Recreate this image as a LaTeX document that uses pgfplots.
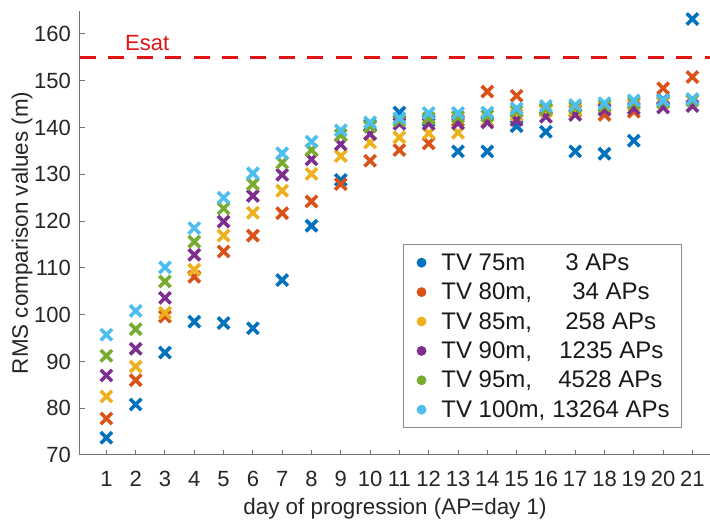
\documentclass[border=0pt]{standalone}
\usepackage{fontspec}
\setmainfont{Liberation Sans}
\usepackage{pgfplots}
\usepackage{pgfplotstable}
\pgfplotsset{compat=1.18}
\definecolor{c1}{rgb}{0,0.447,0.741}
\definecolor{c2}{rgb}{0.850,0.325,0.098}
\definecolor{c3}{rgb}{0.929,0.694,0.125}
\definecolor{c4}{rgb}{0.494,0.184,0.556}
\definecolor{c5}{rgb}{0.466,0.674,0.188}
\definecolor{c6}{rgb}{0.301,0.745,0.933}
\definecolor{esat}{rgb}{0.88,0.08,0.08}
\pgfplotstableread{
day  b      o      y      p      g      c
1    73.7   77.8   82.5   87.0   91.2   95.7
2    80.8   86.0   88.9   92.7   96.9   100.8
3    91.9   99.6   100.4  103.6  107.1  110.1
4    98.5   108.1  109.6  112.8  115.6  118.5
5    98.2   113.5  116.9  119.9  122.7  125.0
6    97.1   116.9  121.8  125.4  127.9  130.2
7    107.4  121.7  126.5  129.9  132.5  134.5
8    119.0  124.2  130.1  133.2  135.2  137.0
9    128.8  127.9  133.9  136.4  138.4  139.4
10   140.5  132.9  136.8  138.6  140.2  141.1
11   143.2  135.2  137.9  140.8  141.5  142.0
12   141.5  136.6  138.8  140.8  142.0  143.1
13   134.9  141.5  138.9  140.9  142.3  143.1
14   134.9  147.7  141.5  141.1  142.5  143.2
15   140.3  146.8  142.7  141.6  143.5  144.1
16   139.1  143.8  143.5  142.3  144.0  144.6
17   134.9  143.5  143.8  142.7  144.3  144.8
18   134.4  142.7  144.2  143.8  144.7  145.2
19   137.2  143.4  144.8  144.1  145.3  145.8
20   146.0  148.4  145.3  144.3  145.5  145.8
21   163.2  150.8  145.8  144.6  145.8  146.1
}\datatable
\begin{document}
\begin{tikzpicture}
\begin{axis}[
  name=ax,
  scale only axis,
  width=315pt, height=222.2pt,
  xmin=0.1, xmax=21.6,
  ymin=70, ymax=165,
  axis lines*=left,
  axis line style={black!55, line width=0.5pt},
  xtick={1,...,21},
  ytick={70,80,...,160},
  tick align=inside,
  major tick length=2.5pt,
  tick style={black!55, line width=0.5pt},
  /pgf/number format/assume math mode=true,
  ticklabel style={font=\fontsize{11}{13}\selectfont, text=black!85},
  xticklabel style={yshift=-4.5pt},
  yticklabel style={xshift=-1pt},
  xlabel={day of progression (AP=day 1)},
  ylabel={RMS comparison values (m)},
  ylabel shift=-6pt,
  xlabel shift=-1pt,
  label style={font=\fontsize{11.2}{13}\selectfont, text=black!85},
  clip=false,
  every axis plot/.append style={only marks, mark=x, mark size=4pt, line width=1.8pt},
  legend image code/.code={\path (0pt,0pt) (11pt,0pt); \fill[#1] (4pt,0pt) circle (1.5pt);},
  legend cell align=left,
  legend style={draw=black!45, line width=0.5pt, at={(0.956,0.061)}, anchor=south east,
    font=\fontsize{12}{14}\selectfont, text=black!90, inner xsep=4pt, inner ysep=1.5pt, row sep=0pt,
    cells={text height=9.2pt, text depth=3pt, inner ysep=1.75pt}},
]
\addplot[color=c1] table[x=day, y=b] {\datatable};
\addlegendentry{\makebox[62pt][l]{TV 75m}3 APs}
\addplot[color=c2] table[x=day, y=o] {\datatable};
\addlegendentry{\makebox[65.5pt][l]{TV 80m,}34 APs}
\addplot[color=c3] table[x=day, y=y] {\datatable};
\addlegendentry{\makebox[62pt][l]{TV 85m,}258 APs}
\addplot[color=c4] table[x=day, y=p] {\datatable};
\addlegendentry{\makebox[59pt][l]{TV 90m,}1235 APs}
\addplot[color=c5] table[x=day, y=g] {\datatable};
\addlegendentry{\makebox[58.5pt][l]{TV 95m,}4528 APs}
\addplot[color=c6] table[x=day, y=c] {\datatable};
\addlegendentry{\makebox[55.5pt][l]{TV 100m,}13264 APs}
\addplot[forget plot, no marks, sharp plot, esat, line width=1.7pt, dash pattern=on 8pt off 6.2pt] coordinates {(0.1,155) (21.6,155)};
\node[anchor=south west, inner sep=0pt, text=esat, font=\fontsize{11}{12}\selectfont] at (axis cs:1.63,156.3) {Esat};
\end{axis}
\pgfresetboundingbox
\path[use as bounding box] ([xshift=-40pt,yshift=-33.5pt]ax.south west) rectangle ([yshift=5.3pt]ax.north east);
\end{tikzpicture}
\end{document}
